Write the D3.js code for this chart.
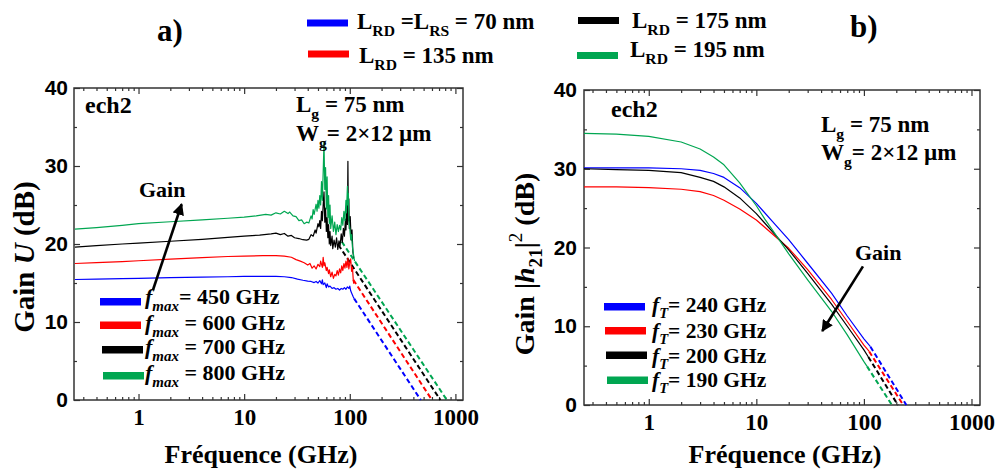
<!DOCTYPE html>
<html><head><meta charset="utf-8">
<script src="https://cdn.jsdelivr.net/npm/d3@7"></script>
<style>body{margin:0;background:#fff}</style>
</head><body>
<script>
// ---------------- DATA ----------------
const seriesColors = ["#0000ff", "#ff0000", "#000000", "#00a651"];
const xTicks = [1, 10, 100, 1000];
const yTicks = [0, 10, 20, 30, 40];
const yMinor = [5, 15, 25, 35];

// Panel a) : Gain U (dB) vs frequency (GHz)
const uLegend = ["450", "600", "700", "800"];
const uBlue = [[0.25,15.45],[0.4,15.5],[0.7,15.55],[1,15.6],[2,15.7],[4,15.75],[7,15.8],[10,15.85],[15,15.85],[20,15.85],[24,15.8],[28,15.7],[32,15.5],[36,15.35],[40,15.25],[43,15.2],[46,15.05],[48,15.2],[50,15.0],[52,15.3],[54,14.9],[55,15.4],[56,14.8],[58,15.0],[60,14.4],[61,14.9],[63,14.5],[65,14.6],[68,14.3],[71,14.4],[74,14.2],[77,14.3],[80,14.1],[83,14.3],[86,14.2],[89,14.4],[92,14.2],[95,14.5],[98,14.3],[100,14.6],[102,14.0],[105,13.6],[108,13.2],[110,13.0]];
const uRed = [[0.25,17.5],[0.4,17.6],[0.7,17.75],[1,17.85],[2,18.05],[4,18.25],[7,18.4],[10,18.45],[15,18.5],[20,18.5],[24,18.45],[28,18.3],[31,18.0],[34,17.8],[37,17.6],[40,17.3],[42,17.5],[44,16.9],[46,17.2],[48,16.8],[50,17.4],[52,17.1],[53,17.8],[55,17.0],[56,18.3],[57,17.2],[58,17.6],[60,16.6],[61,17.0],[63,16.2],[64,16.7],[66,15.8],[68,16.4],[70,15.6],[72,16.1],[74,15.9],[76,16.6],[78,16.0],[80,16.8],[82,16.3],[84,17.2],[86,16.6],[88,17.5],[90,16.9],[92,17.8],[94,17.0],[96,18.2],[98,16.8],[100,17.6],[102,18.1],[104,16.5],[106,17.0],[108,15.3],[109,14.9]];
const uBlack = [[0.25,19.6],[0.4,19.8],[0.7,20.0],[1,20.1],[2,20.35],[4,20.6],[7,20.85],[10,21.0],[14,21.15],[18,21.3],[20,21.4],[22,21.2],[24,21.35],[26,21.0],[28,21.1],[30,20.8],[33,20.7],[36,20.55],[39,20.5],[41,20.6],[43,21.2],[45,21.0],[47,21.8],[48,21.4],[50,22.6],[51,22.2],[52,23.0],[53,22.0],[54,24.2],[55,23.0],[56,25.0],[57,26.7],[58,22.8],[59,24.6],[60,21.6],[61,23.4],[62,20.8],[63,22.5],[64,20.0],[65,21.6],[66,19.8],[68,21.0],[69,19.4],[71,20.5],[73,19.6],[75,20.8],[77,19.3],[79,20.4],[81,19.8],[83,21.3],[85,20.2],[87,22.0],[89,21.0],[91,23.2],[92,21.8],[94,24.8],[95,22.5],[96,30.6],[97,23.0],[98,25.8],[99,22.0],[101,23.5],[103,20.5],[105,21.8],[107,19.0],[109,18.2]];
const uGreen = [[0.25,21.9],[0.4,22.1],[0.7,22.4],[1,22.6],[2,22.85],[4,23.1],[7,23.3],[10,23.45],[13,23.6],[16,23.8],[18,23.7],[20,24.0],[22,23.85],[24,24.2],[26,23.9],[27,24.1],[29,23.6],[31,23.5],[33,23.0],[35,23.1],[37,22.6],[39,22.8],[41,22.7],[43,23.6],[44,23.2],[45,24.4],[46,23.8],[48,25.1],[49,24.2],[50,25.6],[51,24.6],[52,26.2],[53,25.0],[54,28.0],[55,25.6],[56,29.2],[57,33.0],[58,27.0],[59,29.8],[60,24.5],[61,28.6],[62,23.4],[63,26.2],[64,22.6],[65,25.0],[66,22.0],[68,23.6],[70,21.6],[72,22.8],[74,21.2],[76,22.5],[78,21.6],[80,22.4],[82,21.8],[84,23.4],[86,22.4],[88,24.2],[90,23.0],[92,25.6],[93,24.0],[95,27.4],[96,25.0],[97,26.5],[98,23.0],[100,22.0],[102,20.6],[104,21.2],[106,19.6],[108,18.8],[111,17.8]];
// extrapolated (dashed) segments: [start, end]
const uBlueExt = [[110,13.0],[470,0]];
const uRedExt = [[108,15.4],[600,0]];
const uBlackExt = [[78,19.9],[720,0]];
const uGreenExt = [[84,20.3],[830,0]];

// Panel b) : Gain |h21|^2 (dB) vs frequency (GHz)
const hLegend = ["240", "230", "200", "190"];
const hBlue = [[0.25,30.1],[0.5,30.1],[1,30.1],[2,30.0],[3,29.8],[4,29.4],[5,28.9],[7,27.6],[10,25.6],[15,22.9],[20,21.0],[30,18.0],[50,14.2],[70,11.3],[100,8.4],[115,7.4]];
const hRed = [[0.25,27.7],[0.5,27.7],[1,27.6],[2,27.4],[3,27.1],[4,26.6],[5,26.0],[7,24.9],[10,23.5],[15,21.4],[20,19.9],[30,17.2],[50,13.4],[70,10.6],[100,7.6],[112,6.8]];
const hBlack = [[0.25,30.0],[0.5,29.9],[1,29.8],[2,29.5],[3,28.9],[4,28.4],[5,27.7],[7,26.3],[10,24.3],[15,21.6],[20,19.7],[30,16.7],[50,12.8],[70,10.0],[100,7.0],[110,6.1]];
const hGreen = [[0.25,34.5],[0.5,34.4],[1,34.1],[2,33.4],[3,32.5],[4,31.5],[5,30.5],[7,28.2],[10,25.3],[12,23.6],[15,21.7],[20,19.2],[30,15.9],[50,11.9],[70,8.9],[100,5.5],[107,4.9]];
const hBlueExt = [[115,7.4],[248,0]];
const hRedExt = [[112,6.8],[232,0]];
const hBlackExt = [[110,6.1],[207,0]];
const hGreenExt = [[107,4.9],[182,0]];

// ---------------- DRAW ----------------
const SERIF = '"Liberation Serif", "Times New Roman", serif';
const SANS = '"Liberation Sans", Arial, sans-serif';
const svg = d3.select("body").append("svg").attr("width", 998).attr("height", 473);

function rich(x, y, parts, size, opts = {}) {
  const t = svg.append("text").attr("x", x).attr("y", y)
    .style("font-family", SERIF).style("font-size", size + "px").style("font-weight", "bold")
    .style("white-space", "pre").attr("fill", "#000");
  if (opts.anchor) t.attr("text-anchor", opts.anchor);
  if (opts.transform) t.attr("transform", opts.transform);
  let shift = 0;
  parts.forEach(p => {
    const target = p.sub ? size * 0.3 : (p.sup ? -size * 0.42 : 0);
    const ts = t.append("tspan").text(p.t).attr("dy", target - shift);
    shift = target;
    if (p.sub || p.sup) ts.style("font-size", (size * 0.68) + "px");
    if (p.it) ts.style("font-style", "italic");
    if (p.normal) ts.style("font-weight", "normal");
  });
  return t;
}

svg.append("defs").append("marker").attr("id", "arr")
  .attr("viewBox", "0 0 10 10").attr("refX", 9).attr("refY", 5)
  .attr("markerWidth", 4.5).attr("markerHeight", 4.5).attr("orient", "auto")
  .append("path").attr("d", "M0,0 L10,5 L0,10 z").attr("fill", "#000");

function minorX(domain) {
  const out = [];
  for (let d = 0.1; d < 10000; d *= 10)
    for (let m = 2; m <= 9; m++) {
      const v = +(d * m).toPrecision(3);
      if (v >= domain[0] && v <= domain[1]) out.push(v);
    }
  return out;
}

function panel(cfg) {
  const x = d3.scaleLog().domain(cfg.xDomain).range(cfg.xRange);
  const y = d3.scaleLinear().domain([0, 40]).range(cfg.yRange);
  const [x0, x1] = cfg.xRange, [yb, yt] = cfg.yRange;
  const axisStyle = g => {
    g.select(".domain").remove();
    g.selectAll(".tick line").attr("stroke", "#333").attr("stroke-width", 1.2);
  };
  const mx = minorX(cfg.xDomain);
  const majX = xTicks.filter(v => v <= cfg.xDomain[1]);
  svg.append("g").attr("transform", `translate(0,${yb})`)
    .call(d3.axisBottom(x).tickValues(majX).tickSize(-6).tickPadding(9).tickFormat(d3.format("d")))
    .call(axisStyle)
    .call(g => g.selectAll("text").style("font-family", SERIF).style("font-weight", "bold").style("font-size", "23px").attr("fill", "#000"));
  svg.append("g").attr("transform", `translate(0,${yb})`)
    .call(d3.axisBottom(x).tickValues(mx).tickSize(-3).tickFormat("")).call(axisStyle);
  svg.append("g").attr("transform", `translate(0,${yt})`)
    .call(d3.axisTop(x).tickValues(majX).tickSize(-6).tickFormat("")).call(axisStyle);
  svg.append("g").attr("transform", `translate(0,${yt})`)
    .call(d3.axisTop(x).tickValues(mx).tickSize(-3).tickFormat("")).call(axisStyle);
  svg.append("g").attr("transform", `translate(${x0},0)`)
    .call(d3.axisLeft(y).tickValues(yTicks).tickSize(-6).tickPadding(cfg.yPad))
    .call(axisStyle)
    .call(g => g.selectAll("text").style("font-family", SANS).style("font-weight", "bold").style("font-size", "21px").attr("fill", "#000"));
  svg.append("g").attr("transform", `translate(${x0},0)`)
    .call(d3.axisLeft(y).tickValues(yMinor).tickSize(-3).tickFormat("")).call(axisStyle);
  svg.append("g").attr("transform", `translate(${x1},0)`)
    .call(d3.axisRight(y).tickValues(yTicks).tickSize(-6).tickFormat("")).call(axisStyle);
  svg.append("g").attr("transform", `translate(${x1},0)`)
    .call(d3.axisRight(y).tickValues(yMinor).tickSize(-3).tickFormat("")).call(axisStyle);
  svg.append("rect").attr("x", x0).attr("y", yt).attr("width", x1 - x0).attr("height", yb - yt)
    .attr("fill", "none").attr("stroke", "#333").attr("stroke-width", 1.5);

  const line = d3.line().x(d => x(d[0])).y(d => y(d[1]));
  const g = svg.append("g");
  cfg.ext.forEach((s, i) => {
    g.append("path").datum(s).attr("d", line).attr("fill", "none")
      .attr("stroke", seriesColors[i]).attr("stroke-width", 2).attr("stroke-dasharray", "5,3");
  });
  cfg.series.forEach((s, i) => {
    g.append("path").datum(s).attr("d", line).attr("fill", "none")
      .attr("stroke", seriesColors[i]).attr("stroke-width", cfg.lw).attr("stroke-linejoin", "round");
  });
  return { x, y };
}

const A = panel({
  xDomain: [0.245, 1180], xRange: [74, 463], yRange: [400, 88], yPad: 6, lw: 1.2,
  series: [uBlue, uRed, uBlack, uGreen], ext: [uBlueExt, uRedExt, uBlackExt, uGreenExt]
});
const B = panel({
  xDomain: [0.25, 1200], xRange: [584, 980], yRange: [405, 90], yPad: 7, lw: 1.2,
  series: [hBlue, hRed, hBlack, hGreen], ext: [hBlueExt, hRedExt, hBlackExt, hGreenExt]
});

// axis titles
rich(261, 463, [{ t: "Fréquence (GHz)" }], 26, { anchor: "middle" });
rich(785, 463, [{ t: "Fréquence (GHz)" }], 26, { anchor: "middle" });
rich(0, 0, [{ t: "Gain " }, { t: "U", it: true }, { t: " (dB)" }], 29, { anchor: "middle", transform: "translate(34,257) rotate(-90)" });
rich(0, 0, [{ t: "Gain |" }, { t: "h", it: true }, { t: "21", sub: true }, { t: "|" }, { t: "2", sup: true, normal: true }, { t: " (dB)" }], 28, { anchor: "middle", transform: "translate(534,264) rotate(-90)" });

rich(157, 41, [{ t: "a)" }], 31);
rich(850, 37, [{ t: "b)" }], 31);

const topLeg = [
  { x: 307, sy: 19.5, tx: 357, ty: 29, parts: [{ t: "L" }, { t: "RD", sub: true }, { t: " =L" }, { t: "RS", sub: true }, { t: " = 70 nm" }] },
  { x: 308, sy: 50.5, tx: 359, ty: 63, parts: [{ t: "L" }, { t: "RD", sub: true }, { t: " = 135 nm" }] },
  { x: 578, sy: 17, tx: 632, ty: 28, parts: [{ t: "L" }, { t: "RD", sub: true }, { t: " = 175 nm" }] },
  { x: 577, sy: 52, tx: 630, ty: 57, parts: [{ t: "L" }, { t: "RD", sub: true }, { t: " = 195 nm" }] }
];
topLeg.forEach((d, i) => {
  svg.append("rect").attr("x", d.x).attr("y", d.sy).attr("width", 41).attr("height", 7).attr("fill", seriesColors[i]);
  rich(d.tx, d.ty, d.parts, 23);
});

const aLeg = [
  { sx: 100, sy: 298, ty: 304, eq: "= " },
  { sx: 100, sy: 321.5, ty: 330, eq: " = " },
  { sx: 102, sy: 346, ty: 354, eq: " = " },
  { sx: 103, sy: 372, ty: 380, eq: " = " }
];
aLeg.forEach((d, i) => {
  svg.append("rect").attr("x", d.sx).attr("y", d.sy).attr("width", 41).attr("height", 7.5).attr("fill", seriesColors[i]);
  rich(145, d.ty, [{ t: "f", it: true }, { t: "max", sub: true, it: true }, { t: d.eq + uLegend[i] + " GHz" }], 22);
});
const bLeg = [
  { sx: 604, sy: 303, ty: 311.5 },
  { sx: 605, sy: 327, ty: 338 },
  { sx: 606, sy: 351.5, ty: 362.5 },
  { sx: 607, sy: 376.5, ty: 386.5 }
];
bLeg.forEach((d, i) => {
  svg.append("rect").attr("x", d.sx).attr("y", d.sy).attr("width", 41).attr("height", 7.5).attr("fill", seriesColors[i]);
  rich(652, d.ty, [{ t: "f", it: true }, { t: "T", sub: true, it: true }, { t: "= " + hLegend[i] + " GHz" }], 21.5);
});

rich(85, 113, [{ t: "ech2" }], 24);
rich(296, 112, [{ t: "L" }, { t: "g", sub: true }, { t: " = 75 nm" }], 23);
rich(296, 141, [{ t: "W" }, { t: "g", sub: true }, { t: "= 2×12 µm" }], 23);
rich(139, 197, [{ t: "Gain" }], 22);
svg.append("line").attr("x1", A.x(1.37)).attr("y1", A.y(14.1)).attr("x2", A.x(2.56)).attr("y2", A.y(25.1))
  .attr("stroke", "#000").attr("stroke-width", 2.6).attr("marker-end", "url(#arr)");

rich(611, 117, [{ t: "ech2" }], 24);
rich(821, 132, [{ t: "L" }, { t: "g", sub: true }, { t: " = 75 nm" }], 23);
rich(821, 160, [{ t: "W" }, { t: "g", sub: true }, { t: "= 2×12 µm" }], 23);
rich(855, 260, [{ t: "Gain" }], 22);
svg.append("line").attr("x1", B.x(98)).attr("y1", B.y(17.6)).attr("x2", B.x(41)).attr("y2", B.y(9.4))
  .attr("stroke", "#000").attr("stroke-width", 2.6).attr("marker-end", "url(#arr)");
</script>
</body></html>
